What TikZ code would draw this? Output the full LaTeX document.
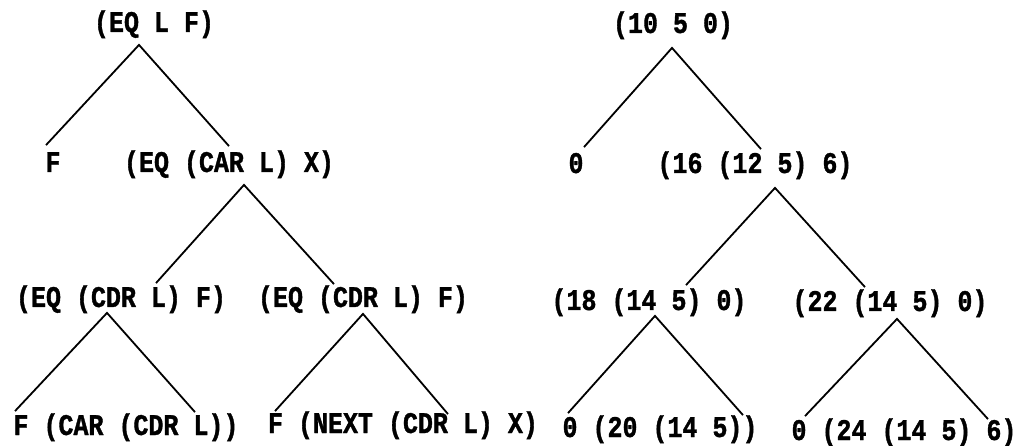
\documentclass[tikz,border=0pt]{standalone}
\usepackage{fontspec}
\usepackage{tikz}
\usetikzlibrary{calc}
\newfontfamily\lispfont[FakeStretch=0.833,FakeBold=1.2]{Liberation Mono}

\begin{document}
\begin{tikzpicture}[x=1pt,y=-1pt,line width=1.8pt,
  lisp/.style={font=\lispfont\bfseries\fontsize{30}{30}\selectfont,inner sep=0pt,
    text height=18pt,text depth=4pt,anchor=base}]
\useasboundingbox (0,0) rectangle (1023,446);
% left tree
\node[lisp] (eqlf) at (154,32) {(EQ L F)};
\node[lisp] (fa) at (53,172) {F};
\node[lisp] (eqcar) at (229,172) {(EQ (CAR L) X)};
\node[lisp] (eqcdra) at (121,307) {(EQ (CDR L) F)};
\node[lisp] (eqcdrb) at (363,307) {(EQ (CDR L) F)};
\node[lisp] (fcar) at (126,435) {F (CAR (CDR L))};
\node[lisp] (fnext) at (403,433) {F (NEXT (CDR L) X)};
\coordinate (ta) at ([xshift=-15pt,yshift=-8pt]eqlf.south);
\coordinate (tb) at ([xshift=15pt,yshift=-8pt]eqcar.south);
\coordinate (tc) at ([xshift=-14pt,yshift=-1pt]eqcdra.south);
\coordinate (td) at ([yshift=-2pt]eqcdrb.south);
\draw ([xshift=-7pt,yshift=8pt]fa.north) -- (ta) -- ([yshift=7pt]eqcar.north);
\draw ([xshift=35pt,yshift=5pt]eqcdra.north) -- (tb) -- ([xshift=-29pt,yshift=4pt]eqcdrb.north);
\draw ([xshift=-111pt,yshift=5pt]fcar.north) -- (tc) -- ([xshift=69pt,yshift=4pt]fcar.north);
\draw ([xshift=-128pt,yshift=3pt]fnext.north) -- (td) -- ([xshift=45pt]fnext.north);
% right tree
\node[lisp] (ten) at (673,33) {(10 5 0)};
\node[lisp] (za) at (576,173) {0};
\node[lisp] (sixteen) at (755,173) {(16 (12 5) 6)};
\node[lisp] (eighteen) at (649,310) {(18 (14 5) 0)};
\node[lisp] (twentytwo) at (890,311) {(22 (14 5) 0)};
\node[lisp] (twenty) at (660,437) {0 (20 (14 5))};
\node[lisp] (twentyfour) at (904,440) {0 (24 (14 5) 6)};
\coordinate (ua) at ([xshift=-1pt,yshift=-10pt]ten.south);
\coordinate (ub) at ([xshift=20pt,yshift=-10pt]sixteen.south);
\coordinate (uc) at ([xshift=6pt,yshift=-1pt]eighteen.south);
\coordinate (ud) at ([xshift=7pt,yshift=-3pt]twentytwo.south);
\draw ([xshift=8pt,yshift=7pt]za.north) -- (ua) -- ([xshift=6pt,yshift=5pt]sixteen.north);
\draw ([xshift=37pt,yshift=6pt]eighteen.north) -- (ub) -- ([xshift=-25pt,yshift=5pt]twentytwo.north);
\draw ([xshift=-92pt,yshift=5pt]twenty.north) -- (uc) -- ([xshift=83pt,yshift=3pt]twenty.north);
\draw ([xshift=-99pt,yshift=5pt]twentyfour.north) -- (ud) -- ([xshift=84pt,yshift=2pt]twentyfour.north);
\end{tikzpicture}
\end{document}
